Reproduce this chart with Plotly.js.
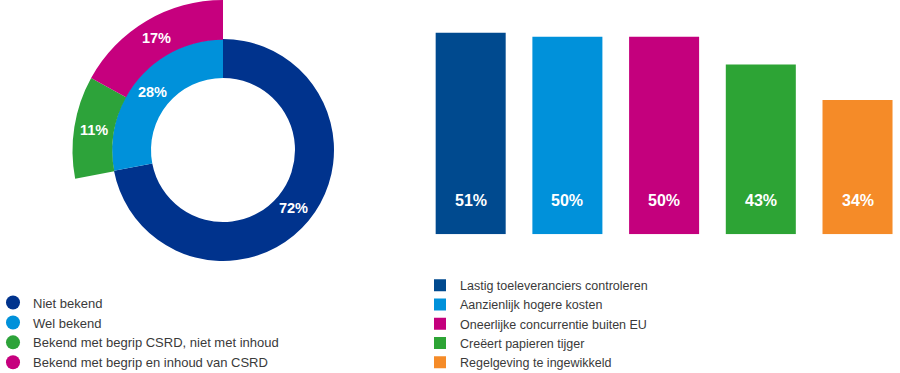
<!DOCTYPE html>
<html>
<head>
<meta charset="utf-8">
<script src="https://cdn.plot.ly/plotly-3.0.1.min.js"></script>
<style>html,body{margin:0;padding:0;background:#fff;}#chart{width:900px;height:373px;}</style>
</head>
<body>
<div id="chart"></div>
<script>
// Donut: awareness of CSRD
const donutLabels = ['Niet bekend', 'Wel bekend'];
const donutValues = [72, 28];
const donutColors = ['#00338D', '#0091DA'];
// Outer ring: split of "Wel bekend"
const knowLabels = ['Bekend met begrip CSRD, niet met inhoud', 'Bekend met begrip en inhoud van CSRD'];
const knowValues = [11, 17];
const knowColors = ['#2DA33A', '#C6007E'];
// Bars: concerns
const barLabels = ['Lastig toeleveranciers controleren', 'Aanzienlijk hogere kosten', 'Oneerlijke concurrentie buiten EU', 'Creëert papieren tijger', 'Regelgeving te ingewikkeld'];
const barValues = [51, 50, 50, 43, 34];
const barColors = ['#004A8F', '#0091DA', '#C4007D', '#2DA435', '#F58B28'];

const W = 900, H = 373;
const FONT = 'Liberation Sans, Arial, sans-serif';
const pct = v => v + '%';

const traces = [];
barLabels.forEach((lab, i) => {
  traces.push({
    type: 'bar', x: [lab], y: [barValues[i]], name: lab,
    marker: {color: barColors[i]}, legend: 'legend2', hoverinfo: 'skip'
  });
});

// inner donut
const cx = 223, cy = 150, rIn = 111, rHole = 72, rOut = 151;
traces.push({
  type: 'pie', labels: donutLabels, values: donutValues, sort: false,
  direction: 'clockwise', rotation: 0, hole: rHole / rIn,
  marker: {colors: donutColors},
  text: donutValues.map(pct), textinfo: 'text', textposition: 'inside',
  insidetextorientation: 'horizontal',
  insidetextfont: {family: FONT, size: 14.5, color: '#fff', weight: 700},
  domain: {x: [(cx - rIn) / W, (cx + rIn) / W], y: [(H - cy - rIn) / H, (H - cy + rIn) / H]},
  showlegend: false, hoverinfo: 'skip'
});
// outer ring (only over "Wel bekend")
traces.push({
  type: 'pie', labels: ['_rest'].concat(knowLabels), values: [donutValues[0]].concat(knowValues), sort: false,
  direction: 'clockwise', rotation: 0, hole: rIn / rOut,
  marker: {colors: ['rgba(0,0,0,0)'].concat(knowColors)},
  text: [''].concat(knowValues.map(pct)), textinfo: 'text', textposition: 'inside',
  insidetextorientation: 'horizontal',
  insidetextfont: {family: FONT, size: 14.5, color: '#fff', weight: 700},
  domain: {x: [(cx - rOut) / W, (cx + rOut) / W], y: [(H - cy - rOut) / H, Math.min(1, (H - cy + rOut) / H)]},
  showlegend: false, hoverinfo: 'skip'
});
// legend entries for the donut (circles)
donutLabels.concat(knowLabels).forEach((lab, i) => {
  traces.push({
    type: 'scatter', mode: 'markers', x: [null], y: [null], name: lab,
    marker: {color: donutColors.concat(knowColors)[i], size: 14, symbol: 'circle'},
    legend: 'legend', hoverinfo: 'skip'
  });
});

const annotations = barLabels.map((lab, i) => ({
  x: lab, y: 0, xref: 'x', yref: 'y', yshift: 34, yanchor: 'middle', showarrow: false,
  text: pct(barValues[i]), font: {family: FONT, size: 16, color: '#fff', weight: 700}
}));

const layout = {
  width: W, height: H,
  margin: {l: 0, r: 0, t: 0, b: 0, autoexpand: false},
  paper_bgcolor: '#fff', plot_bgcolor: 'rgba(0,0,0,0)',
  font: {family: FONT, color: '#3a3a3a'},
  barmode: 'overlay', bargap: 0.276,
  xaxis: {domain: [432 / W, 896.2 / W], range: [-0.4, 4.4], visible: false, fixedrange: true},
  yaxis: {domain: [138.7 / H, 353 / H], range: [0, 54.25], visible: false, fixedrange: true},
  showlegend: true,
  legend: {x: -7 / W, y: 0.2290, xanchor: 'left', yanchor: 'top', bgcolor: 'rgba(0,0,0,0)',
    font: {family: FONT, size: 13, color: '#3a3a3a'}},
  legend2: {x: 420 / W, y: 0.2743, xanchor: 'left', yanchor: 'top', bgcolor: 'rgba(0,0,0,0)',
    font: {family: FONT, size: 12.5, color: '#3a3a3a'}},
  annotations: annotations
};

Plotly.newPlot('chart', traces, layout, {displayModeBar: false, staticPlot: true});
</script>
</body>
</html>
